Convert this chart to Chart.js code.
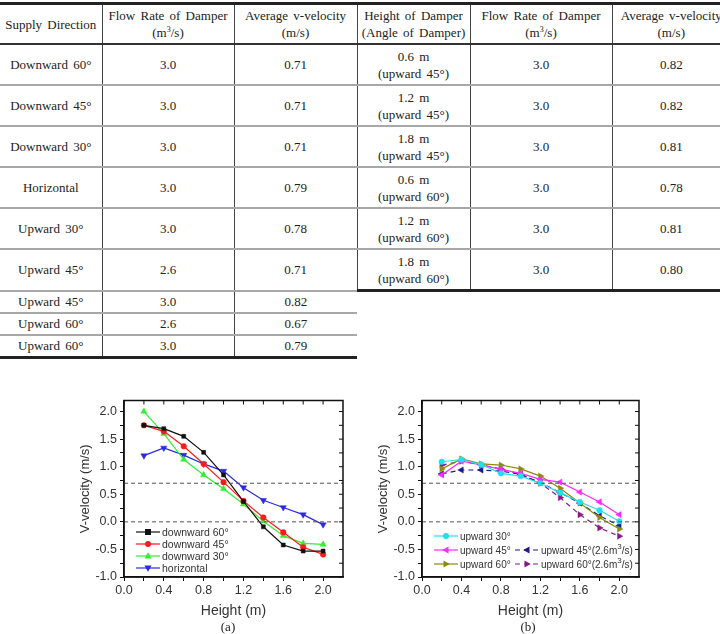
<!DOCTYPE html>
<html>
<head>
<meta charset="utf-8">
<script src="https://cdn.jsdelivr.net/npm/chart.js@4.4.1/dist/chart.umd.min.js"></script>
<style>
  html, body { margin: 0; padding: 0; background: #fff; width: 720px; height: 634px; overflow: hidden; position: relative; }
  #tbl { position: absolute; left: 0; top: 2px; border-collapse: collapse; table-layout: fixed; width: 730px;
         font-family: "Liberation Serif", "Times New Roman", serif; font-size: 13px; color: #222; word-spacing: 2px; }
  #tbl td { text-align: center; vertical-align: middle; padding: 0; line-height: 17px; }
  #tbl tr.head td { height: 38px; border-top: 3px solid #222; border-bottom: 2px solid #333; }
  #tbl tr.big td { height: 39px; border-bottom: 2px solid #a8a8a8; }
  #tbl tr.small td { height: 20px; border-bottom: 2px solid #a8a8a8; }
  #tbl td.vl { border-left: 1px solid #444; }
  #tbl tr.big.last td.r { border-bottom: 3px solid #222; }
  #tbl tr.small td.r { border: none; }
  #tbl tr.small.last td.l { border-bottom: 3px solid #222; }
  sup { font-size: 8px; line-height: 0; vertical-align: 5px; }
  canvas { position: absolute; }
  .cap { position: absolute; font-family: "Liberation Serif", serif; font-size: 13px; color: #222; transform: translateX(-50%); }
  .lg { position: absolute; display: flex; align-items: center; height: 12px; font-family: "Liberation Sans", Arial, sans-serif; color: #333; white-space: nowrap; }
  .lg svg { margin-right: 2px; }
</style>
</head>
<body>
<table id="tbl">
  <colgroup><col style="width:102px"><col style="width:132px"><col style="width:123px"><col style="width:113px"><col style="width:142px"><col style="width:118px"></colgroup>
  <tbody id="tbody"></tbody>
</table>
<canvas id="chartA" width="285" height="230" style="left:70px; top:390px;"></canvas>
<canvas id="chartB" width="285" height="230" style="left:368px; top:390px;"></canvas>
<div class="cap" style="left:228px; top:619px;">(a)</div>
<div class="cap" style="left:528px; top:619px;">(b)</div>
<script>
// ---- table text ----
const headers = ["Supply Direction", "Flow Rate of Damper<br>(m<sup>3</sup>/s)", "Average v-velocity<br>(m/s)",
                 "Height of Damper<br>(Angle of Damper)", "Flow Rate of Damper<br>(m<sup>3</sup>/s)", "Average v-velocity<br>(m/s)"];
const supplyDirection = ["Downward 60°", "Downward 45°", "Downward 30°", "Horizontal", "Upward 30°", "Upward 45°", "Upward 45°", "Upward 60°", "Upward 60°"];
const flowLeft = ["3.0", "3.0", "3.0", "3.0", "3.0", "2.6", "3.0", "2.6", "3.0"];
const avgLeft = ["0.71", "0.71", "0.71", "0.79", "0.78", "0.71", "0.82", "0.67", "0.79"];
const damperHeight = ["0.6 m", "1.2 m", "1.8 m", "0.6 m", "1.2 m", "1.8 m"];
const damperAngle = ["(upward 45°)", "(upward 45°)", "(upward 45°)", "(upward 60°)", "(upward 60°)", "(upward 60°)"];
const flowRight = ["3.0", "3.0", "3.0", "3.0", "3.0", "3.0"];
const avgRight = ["0.82", "0.82", "0.81", "0.78", "0.81", "0.80"];

// ---- chart data ----
const heights = [0.2, 0.4, 0.6, 0.8, 1.0, 1.2, 1.4, 1.6, 1.8, 2.0];
const down60 = [1.75, 1.69, 1.55, 1.26, 0.85, 0.37, -0.09, -0.42, -0.53, -0.53];
const down45 = [1.75, 1.64, 1.37, 1.05, 0.72, 0.38, 0.08, -0.19, -0.46, -0.59];
const down30 = [2.00, 1.60, 1.13, 0.85, 0.60, 0.32, 0.01, -0.25, -0.39, -0.41];
const horiz = [1.20, 1.34, 1.21, 1.05, 0.92, 0.62, 0.39, 0.26, 0.13, -0.05];

const up30 = [1.09, 1.13, 1.04, 0.88, 0.83, 0.70, 0.53, 0.36, 0.21, 0.01];
const up45 = [0.85, 1.10, 1.03, 0.95, 0.88, 0.77, 0.72, 0.54, 0.36, 0.13];
const up60 = [0.96, 1.14, 1.05, 1.03, 0.96, 0.83, 0.61, 0.34, 0.08, -0.13];
const up45low = [0.87, 0.94, 0.94, 0.92, 0.86, 0.71, 0.53, 0.34, 0.11, -0.07];
const up60low = [1.03, 1.10, 1.03, 0.96, 0.86, 0.70, 0.44, 0.13, -0.11, -0.26];

const refLevels = [0.7, 0.0];
const labelsA = ["downward 60°", "downward 45°", "downward 30°", "horizontal"];
const labelsB = ["upward 30°", "upward 45°", "upward 60°", "upward 45°(2.6m<sup>3</sup>/s)", "upward 60°(2.6m<sup>3</sup>/s)"];

// build table
const tbody = document.getElementById("tbody");
let h = '<tr class="head">' + headers.map((t, i) => `<td class="${i ? 'vl' : ''}">${t}</td>`).join('') + '</tr>';
supplyDirection.forEach((d, i) => {
  const big = i < 6;
  const cls = (big ? 'big' : 'small') + ((i === 5 || i === 8) ? ' last' : '');
  h += `<tr class="${cls}"><td class="l">${d}</td><td class="l vl">${flowLeft[i]}</td><td class="l vl">${avgLeft[i]}</td>`;
  if (big) {
    h += `<td class="r vl">${damperHeight[i]}<br>${damperAngle[i]}</td><td class="r vl">${flowRight[i]}</td><td class="r vl">${avgRight[i]}</td>`;
  } else {
    h += '<td class="r"></td><td class="r"></td><td class="r"></td>';
  }
  h += '</tr>';
});
tbody.innerHTML = h;

// ---- charts ----
const font = { family: "'Liberation Sans', Arial, sans-serif" };

// box round the plot + inward ticks on top and right
const frameTicks = {
  id: 'frameTicks',
  afterDraw(chart) {
    const { ctx, chartArea: a, scales: { x, y } } = chart;
    ctx.save();
    ctx.strokeStyle = '#111';
    ctx.lineWidth = 1;
    x.ticks.forEach(t => {
      const px = x.getPixelForValue(t.value);
      ctx.beginPath(); ctx.moveTo(px, a.top); ctx.lineTo(px, a.top + 4); ctx.stroke();
    });
    y.ticks.forEach(t => {
      const py = y.getPixelForValue(t.value);
      ctx.beginPath(); ctx.moveTo(a.right, py); ctx.lineTo(a.right - 4, py); ctx.stroke();
    });
    ctx.lineWidth = 1.5;
    ctx.strokeRect(a.left, a.top, a.right - a.left, a.bottom - a.top);
    ctx.restore();
  }
};

function series(label, values, color, style, rot, dash) {
  return {
    label, data: values.map((v, i) => ({ x: heights[i], y: v })),
    borderColor: color, backgroundColor: color, borderWidth: 1.2,
    borderDash: dash ? [5, 4] : [],
    pointStyle: style, pointRotation: rot || 0, pointRadius: style === 'triangle' ? 3.6 : 2.8,
    pointBorderWidth: 0.5
  };
}

function refLines() {
  return refLevels.map(v => ({
    label: 'ref', data: [{ x: 0, y: v }, { x: 2.2, y: v }],
    borderColor: '#555', borderWidth: 1, borderDash: [4, 3], pointRadius: 0
  }));
}

function options(rightPad) {
  return {
    responsive: false, animation: false,
    layout: { padding: { top: 8, right: rightPad, left: 6, bottom: 0 } },
    plugins: { legend: { display: false }, tooltip: { enabled: false } },
    scales: {
      x: {
        type: 'linear', min: 0, max: 2.2,
        afterBuildTicks: s => { s.ticks = s.ticks.filter(t => t.value <= 2.0001); },
        ticks: { stepSize: 0.2, includeBounds: false, autoSkip: false, maxRotation: 0, padding: 2, color: '#333', font: { ...font, size: 12.5 },
                 callback: v => (Math.round(v * 10) % 4 === 0) ? v.toFixed(1) : '' },
        grid: { drawOnChartArea: false, drawTicks: true, tickLength: 4, color: '#111' },
        border: { display: true, color: '#111', width: 1.5 },
        title: { display: true, text: 'Height (m)', color: '#333', font: { ...font, size: 14 }, padding: { top: 0, bottom: 0 } },
        afterFit: s => { s.height = 43; }
      },
      y: {
        min: -1, max: 2.2,
        afterBuildTicks: s => { s.ticks = s.ticks.filter(t => t.value <= 2.0001); },
        ticks: { stepSize: 0.25, includeBounds: false, autoSkip: false, padding: 3, color: '#333', font: { ...font, size: 12.5 },
                 callback: v => (Math.abs(v * 2 - Math.round(v * 2)) < 1e-6) ? v.toFixed(1) : '' },
        grid: { drawOnChartArea: false, drawTicks: true, tickLength: 4, color: '#111' },
        border: { display: true, color: '#111', width: 1.5 },
        title: { display: true, text: 'V-velocity (m/s)', color: '#333', font: { ...font, size: 13 }, padding: { top: 2, bottom: 2 } },
        afterFit: s => { s.width = 48; }
      }
    }
  };
}

const setA = [
  series(labelsA[0], down60, '#111111', 'rect'),
  series(labelsA[1], down45, '#ff1a1a', 'circle'),
  series(labelsA[2], down30, '#33ee33', 'triangle'),
  series(labelsA[3], horiz, '#2a2ae0', 'triangle', 180)
];
const setB = [
  series(labelsB[0], up30, '#20e0f0', 'circle'),
  series(labelsB[1], up45, '#ff2aff', 'triangle', -90),
  series(labelsB[2], up60, '#8a8a10', 'triangle', 90),
  series(labelsB[3], up45low, '#1a1a8a', 'triangle', -90, true),
  series(labelsB[4], up60low, '#8a1a8a', 'triangle', 90, true)
];

new Chart(document.getElementById('chartA'), {
  type: 'line', data: { datasets: [...refLines(), ...setA] }, options: options(12), plugins: [frameTicks]
});
new Chart(document.getElementById('chartB'), {
  type: 'line', data: { datasets: [...refLines(), ...setB] }, options: options(14), plugins: [frameTicks]
});

// ---- legends (html) ----
function marker(ds) {
  const c = ds.borderColor;
  if (ds.pointStyle === 'rect') return `<rect x="9" y="2" width="6" height="6" fill="${c}"/>`;
  if (ds.pointStyle === 'circle') return `<circle cx="12" cy="5" r="3" fill="${c}"/>`;
  return `<polygon points="12,1.2 15.5,7.5 8.5,7.5" fill="${c}" transform="rotate(${ds.pointRotation} 12 5)"/>`;
}
function legendItem(ds, left, cy, size) {
  const d = document.createElement('div');
  d.className = 'lg';
  d.style.left = left + 'px';
  d.style.top = (cy - 6) + 'px';
  d.style.fontSize = size + 'px';
  const dash = ds.borderDash.length ? 'stroke-dasharray="5 4"' : '';
  d.innerHTML = `<svg width="24" height="10"><line x1="0" y1="5" x2="24" y2="5" stroke="${ds.borderColor}" stroke-width="1.2" ${dash}/>${marker(ds)}</svg><span>${ds.label}</span>`;
  document.body.appendChild(d);
}
setA.forEach((ds, i) => legendItem(ds, 136, 532 + i * 12, 10.5));
legendItem(setB[0], 434, 536, 10);
legendItem(setB[1], 434, 550, 10);
legendItem(setB[2], 434, 564, 10);
legendItem(setB[3], 515, 550, 10);
legendItem(setB[4], 515, 564, 10);
</script>
</body>
</html>
